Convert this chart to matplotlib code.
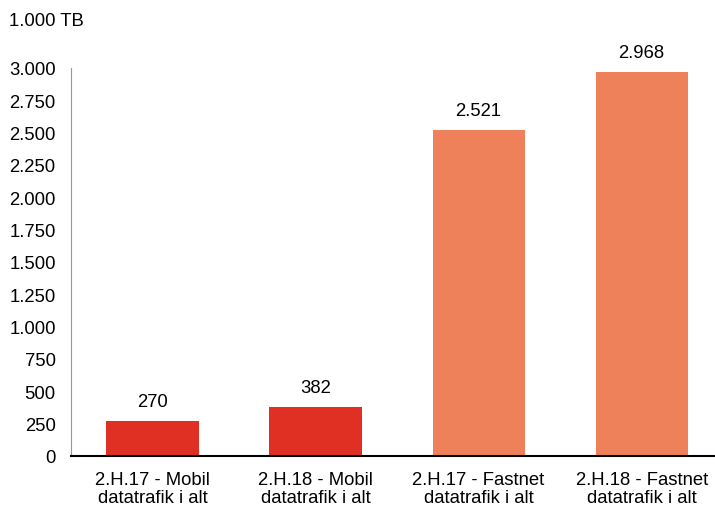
import matplotlib.pyplot as plt
import matplotlib.ticker as mticker

categories = ['2.H.17 - Mobil\ndatatrafik i alt', '2.H.18 - Mobil\ndatatrafik i alt',
              '2.H.17 - Fastnet\ndatatrafik i alt', '2.H.18 - Fastnet\ndatatrafik i alt']
values = [270, 382, 2521, 2968]
colors = ['#E03024', '#E03024', '#EE805A', '#EE805A']
yticks = [0, 250, 500, 750, 1000, 1250, 1500, 1750, 2000, 2250, 2500, 2750, 3000]

plt.rcParams['font.family'] = ['Liberation Sans', 'DejaVu Sans']
plt.rcParams['font.size'] = 13.3


def dk(v, pos=None):
    return f'{int(v):,}'.replace(',', '.')


fig = plt.figure(figsize=(7.15, 5.1), dpi=100)
ax = fig.add_axes([0.0993, 0.104, 0.9007, 0.761])

x = range(len(categories))
bars = ax.bar(x, values, width=0.565, color=colors)
for i, v in enumerate(values):
    ax.text(i, v + 85, dk(v), ha='center', va='bottom')

ax.set_xlim(-0.5, 3.45)
ax.set_ylim(0, 3000)
ax.set_yticks(yticks)
ax.yaxis.set_major_formatter(mticker.FuncFormatter(dk))
ax.set_xticks(list(x))
ax.set_xticklabels(categories, linespacing=1.05)
ax.tick_params(axis='y', length=0, pad=11)
ax.tick_params(axis='x', length=0, pad=11)

for s in ['top', 'right']:
    ax.spines[s].set_visible(False)
ax.spines['left'].set_color('#999999')
ax.spines['bottom'].set_color('black')
ax.spines['bottom'].set_linewidth(1.5)

fig.text(0.012, 0.957, '1.000 TB', va='center')

fig.savefig('out.png', dpi=100)
